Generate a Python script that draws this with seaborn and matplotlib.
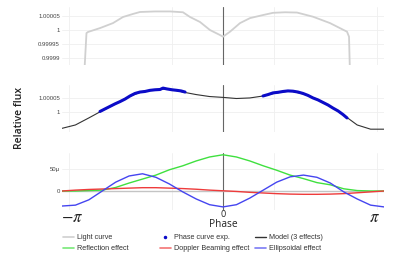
import numpy as np
import seaborn as sns
import matplotlib.pyplot as plt
from matplotlib.lines import Line2D

sns.set_theme(style="white")
plt.rcParams['font.family'] = ['Liberation Sans', 'DejaVu Sans']
plt.rcParams['mathtext.fontset'] = 'stix'

# phase grid of the model curves (radians, -pi .. pi in 15 degree steps)
phase = np.linspace(-np.pi, np.pi, 25)

# model and its three effects, in ppm of relative flux
model_ppm = [-58, -46, -21, 5, 29, 55, 73, 80, 82, 71, 62, 55, 52,
             48, 50, 57, 68, 75, 64, 46, 20, -11, -46, -61, -61]
reflection_ppm = [0, 0, 1, 2, 8, 18, 27, 36, 48, 57, 68, 77, 82,
                  77, 68, 57, 47, 36, 28, 19, 14, 5, 1, 0, 0]
doppler_ppm = [0, 2, 3.5, 4.5, 5.5, 6.5, 7.5, 7.5, 6.5, 5.5, 4, 2, 0.5,
               -1, -3, -4.5, -6, -7, -7.5, -7.5, -7, -6, -4, -2, 0]
ellipsoidal_ppm = [-34, -32, -20, 0, 20, 34, 39, 31, 16, -2, -18, -31, -36,
                   -31, -16, 2, 20, 32, 36, 31, 18, -2, -18, -32, -36]

# light curve (top panel)
lc_phase = [-2.703, -2.664, -2.634, -2.400, -2.147, -1.951, -1.756, -1.620,
            -1.327, -1.034, -0.781, -0.644, -0.449, -0.254, -0.059, 0.0,
            0.137, 0.332, 0.527, 0.781, 0.976, 1.210, 1.444, 1.756, 2.088,
            2.420, 2.459, 2.478]
lc_ppm = [-144, -11, -7, 7, 25, 47, 58, 65, 67, 67, 64, 47, 29, 0, -18, -24,
          -6, 25, 43, 54, 62, 64, 63, 48, 25, -6, -24, -162]

# phase curve from the observations (middle panel, two windows)
exp_left_phase = [-2.400, -2.303, -2.205, -2.107, -2.010, -1.912, -1.815,
                  -1.717, -1.620, -1.522, -1.425, -1.327, -1.229, -1.171,
                  -1.093, -0.995, -0.898, -0.820, -0.741]
exp_left_ppm = [2, 11, 20, 29, 37, 46, 57, 66, 71, 73, 77, 79, 80, 85,
                82, 79, 77, 75, 71]
exp_right_phase = [0.781, 0.878, 0.976, 1.073, 1.171, 1.268, 1.366, 1.463,
                   1.561, 1.659, 1.756, 1.854, 1.951, 2.049, 2.146, 2.244,
                   2.342, 2.420]
exp_right_ppm = [57, 62, 68, 70, 73, 75, 74, 71, 66, 59, 50, 43, 34, 25,
                 14, 4, -9, -21]

c_light = '#d0d0d0'
c_exp = '#0b0bc8'
c_model = '#333333'
c_refl = '#3fe03f'
c_dopp = '#ee3b3b'
c_ell = '#4545f0'

fig = plt.figure(figsize=(4.15, 2.68), dpi=100)
W, H = 415, 268
ax1 = fig.add_axes([62 / W, 1 - 65 / H, 322 / W, 58 / H])
ax2 = fig.add_axes([62 / W, 1 - 132 / H, 322 / W, 47 / H])
ax3 = fig.add_axes([62 / W, 1 - 210 / H, 322 / W, 57 / H])

for ax in (ax1, ax2, ax3):
    for sp in ax.spines.values():
        sp.set_visible(False)
    ax.set_xlim(-np.pi, np.pi)
    ax.set_xticks([-3, -1, 1, 3], minor=True)
    ax.grid(which='minor', axis='x', color='#efefef', lw=0.6)
    ax.grid(which='major', axis='y', color='#efefef', lw=0.6)
    ax.tick_params(which='both', length=0, pad=1.5, labelsize=4.3,
                   labelcolor='#444444')
    ax.axvline(0, color='#666666', lw=0.8, zorder=1)
    ax.set_xlabel('')
    ax.set_ylabel('')

# top: light curve
sns.lineplot(x=lc_phase, y=lc_ppm, ax=ax1, color=c_light, lw=1.3,
             estimator=None, sort=False, zorder=2)
ax1.set_ylim(-126, 83)
ax1.set_yticks([-100, -50, 0, 50], ['0.9999', '0.99995', '1', '1.00005'])
ax1.set_xticks([])

# middle: model and observed phase curve
sns.lineplot(x=phase, y=model_ppm, ax=ax2, color=c_model, lw=0.8,
             estimator=None, zorder=2)
sns.lineplot(x=exp_left_phase, y=exp_left_ppm, ax=ax2, color=c_exp, lw=2.2,
             estimator=None, zorder=3)
sns.lineplot(x=exp_right_phase, y=exp_right_ppm, ax=ax2, color=c_exp, lw=2.2,
             estimator=None, zorder=3)
ax2.set_ylim(-71, 96)
ax2.set_yticks([0, 50], ['1', '1.00005'])
ax2.set_xticks([])

# bottom: the three effects
ax3.axhline(0, color='#c4c4c4', lw=1.0, zorder=1)
sns.lineplot(x=phase, y=reflection_ppm, ax=ax3, color=c_refl, lw=1.0,
             estimator=None, zorder=2)
sns.lineplot(x=phase, y=doppler_ppm, ax=ax3, color=c_dopp, lw=1.0,
             estimator=None, zorder=2)
sns.lineplot(x=phase, y=ellipsoidal_ppm, ax=ax3, color=c_ell, lw=1.0,
             estimator=None, zorder=2)
ax3.set_ylim(-43, 86)
ax3.set_yticks([0, 50], ['0', '50\u00b5'])
ax3.set_xticks([-2.95, 0, 2.95], [r'$-\pi$', '0', r'$\pi$'])
xl = ax3.get_xticklabels()
xl[0].set_fontsize(12)
xl[2].set_fontsize(12)
xl[1].set_fontsize(6.5)
xl[1].set_family('Open Sans')
for t in xl:
    t.set_color('#222222')
ax3.tick_params(axis='x', pad=0)
ax3.set_xlabel('Phase', fontsize=7.3, family='Open Sans', color='#222222',
               va='center')
ax3.xaxis.set_label_coords(0.5, -14.5 / 57)

fig.text(20 / W, 1 - 118 / H, 'Relative flux', rotation=90, ha='center',
         va='center', fontsize=7.5, family='Open Sans', weight='semibold',
         color='#222222')

# legend in three fixed-width columns
lg_kw = dict(loc='upper left', frameon=False, borderpad=0, borderaxespad=0,
             fontsize=5.2, handlelength=1.5, handletextpad=0.5,
             labelspacing=0.55, labelcolor='#333333')
fig.legend([Line2D([], [], color=c_light, lw=1.2),
            Line2D([], [], color=c_refl, lw=1.2, alpha=0.7)],
           ['Light curve', 'Reflection effect'],
           bbox_to_anchor=(63 / W, 1 - 234 / H), **lg_kw)
fig.legend([Line2D([], [], color=c_exp, marker='o', ls='', ms=1.5),
            Line2D([], [], color=c_dopp, lw=1.2, alpha=0.7)],
           ['Phase curve exp.', 'Doppler Beaming effect'],
           bbox_to_anchor=(160 / W, 1 - 234 / H), **lg_kw)
fig.legend([Line2D([], [], color=c_model, lw=1.0),
            Line2D([], [], color=c_ell, lw=1.2, alpha=0.7)],
           ['Model (3 effects)', 'Ellipsoidal effect'],
           bbox_to_anchor=(255 / W, 1 - 234 / H), **lg_kw)

fig.savefig('out.png', dpi=100)
